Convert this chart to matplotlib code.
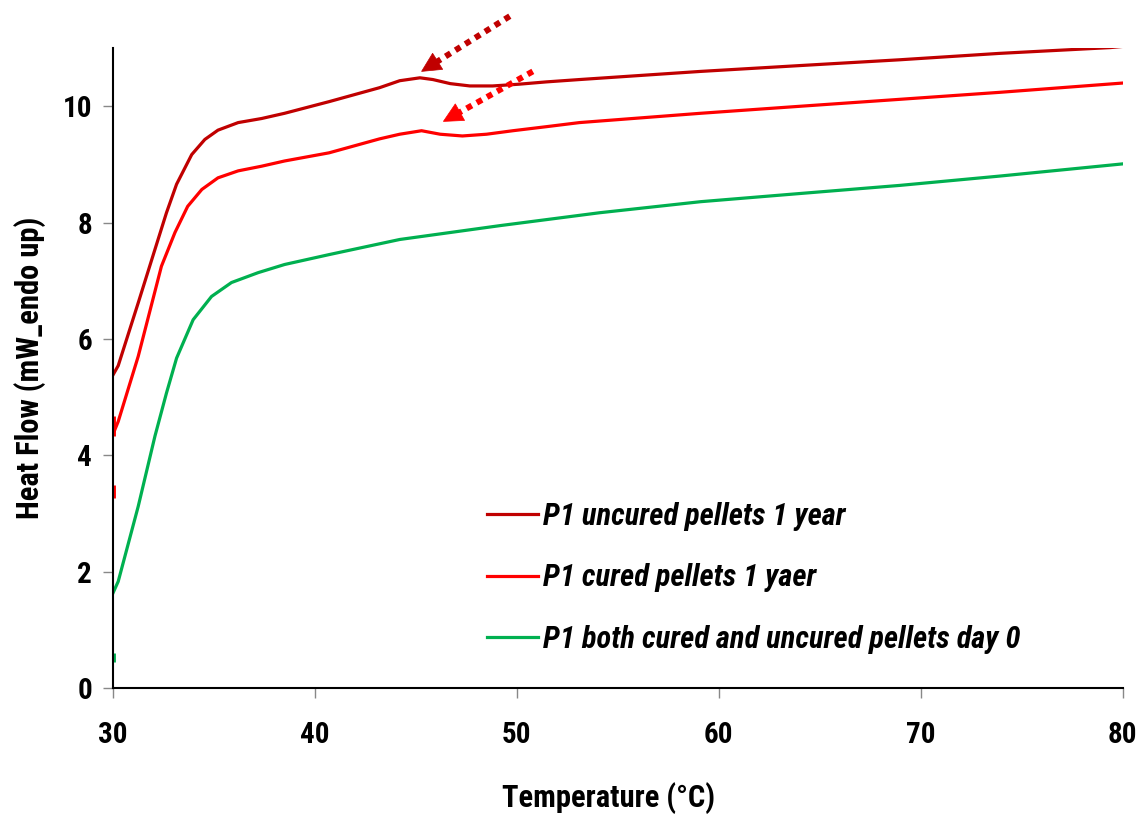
import numpy as np
import matplotlib
matplotlib.use("Agg")
import matplotlib.pyplot as plt
from matplotlib import font_manager as fm
from matplotlib.patches import Polygon
from matplotlib.transforms import IdentityTransform

names = {f.name for f in fm.fontManager.ttflist}
FONT = "DejaVu Sans"
for cand in ["Arial Narrow", "Liberation Sans Narrow", "Roboto Condensed",
             "Archivo Narrow", "Barlow Semi Condensed", "PT Sans Narrow"]:
    if cand in names:
        FONT = cand
        break
plt.rcParams['font.family'] = [FONT, 'DejaVu Sans']

# ---- data ----
t_uncured = [30.0, 30.26, 31.25, 32.08, 32.65, 33.15, 33.9, 34.55, 35.2, 36.2, 37.36, 38.5,
             40.7, 43.2, 44.2, 45.2, 45.84, 46.7, 47.67, 48.8, 50.1, 51.47, 53.1,
             59.1, 64.0, 68.96, 73.9, 79.4, 80.0]
v_uncured = [5.38, 5.54, 6.62, 7.54, 8.17, 8.66, 9.17, 9.43, 9.59, 9.72, 9.79, 9.88,
             10.08, 10.32, 10.44, 10.49, 10.46, 10.39, 10.35, 10.35, 10.38, 10.42, 10.46,
             10.60, 10.70, 10.80, 10.91, 11.01, 11.03]

t_cured = [30.0, 30.26, 31.25, 32.4, 33.07, 33.7, 34.4, 35.2, 36.2, 37.36, 38.5,
           40.7, 43.2, 44.2, 45.28, 46.2, 47.3, 48.5, 49.8, 51.47, 53.1,
           59.1, 64.0, 68.96, 73.9, 80.0]
v_cured = [4.36, 4.58, 5.70, 7.25, 7.83, 8.28, 8.57, 8.77, 8.89, 8.97, 9.06,
           9.20, 9.44, 9.52, 9.58, 9.52, 9.49, 9.52, 9.58, 9.65, 9.72,
           9.88, 10.00, 10.12, 10.24, 10.40]

t_day0 = [30.0, 30.26, 31.25, 32.08, 32.65, 33.15, 33.97, 34.88, 35.87, 37.19, 38.5,
          40.7, 44.2, 49.2, 54.1, 59.1, 64.0, 68.96, 73.9, 80.0]
v_day0 = [1.63, 1.83, 3.12, 4.33, 5.07, 5.67, 6.33, 6.73, 6.97, 7.14, 7.28,
          7.45, 7.71, 7.95, 8.17, 8.36, 8.50, 8.64, 8.80, 9.01]

# initial transients at 30 °C
t_spike = [30.0, 30.0]
v_cured_spike = [3.27, 3.49]
v_cured_spike2 = [4.33, 4.67]
v_day0_spike = [0.45, 0.60]

labels = ["P1 uncured pellets 1 year", "P1 cured pellets 1 yaer",
          "P1 both cured and uncured pellets day 0"]
colors = ["#C00000", "#FF0000", "#00B050"]

xticks = [30, 40, 50, 60, 70, 80]
yticks = [0, 2, 4, 6, 8, 10]

# arrow annotations (tail -> tip) in data coords
arrow_dark = [(49.65, 11.55), (45.28, 10.60)]
arrow_red = [(50.79, 10.60), (46.36, 9.74)]

fig = plt.figure(figsize=(11.41, 8.16), dpi=100)
ax = fig.add_axes([0.099, 0.157, 0.885, 0.784])

lw = 2.3
ax.plot(t_uncured, v_uncured, color=colors[0], lw=lw, label=labels[0])
ax.plot(t_cured, v_cured, color=colors[1], lw=lw, label=labels[1])
ax.plot(t_day0, v_day0, color=colors[2], lw=lw, label=labels[2])
for vs, c in [(v_cured_spike, colors[1]), (v_cured_spike2, colors[1]), (v_day0_spike, colors[2])]:
    ax.plot(t_spike, vs, color=c, lw=3.5, solid_capstyle='butt')

ax.set_xlim(30, 80)
ax.set_ylim(0, 11)


def draw_arrow(tail, tip, color, head_len=19, head_w=19):
    p_tail = ax.transData.transform(tail)
    p_tip = ax.transData.transform(tip)
    d = p_tip - p_tail
    L = np.hypot(*d)
    u = d / L
    n = np.array([-u[1], u[0]])
    base = p_tip - u * head_len
    tri = np.array([p_tip, base + n * head_w / 2, base - n * head_w / 2])
    ax.add_patch(Polygon(tri, closed=True, facecolor=color, edgecolor=color, lw=0.5,
                         transform=IdentityTransform(), clip_on=False))
    shaft_end = ax.transData.inverted().transform(base + u * 1)
    ax.plot([tail[0], shaft_end[0]], [tail[1], shaft_end[1]], color=color, lw=4.3,
            linestyle=(0, (1, 0.95)), dash_capstyle='butt', clip_on=False)


draw_arrow(*arrow_dark, colors[0])
draw_arrow(*arrow_red, colors[1])

ax.set_xticks(xticks)
ax.set_yticks(yticks)
ax.spines['top'].set_visible(False)
ax.spines['right'].set_visible(False)
for s in ['left', 'bottom']:
    ax.spines[s].set_linewidth(1.5)
    ax.spines[s].set_color('black')

tick_font = dict(family=[FONT, 'DejaVu Sans'], weight='bold', size=21)
ax.tick_params(axis='x', direction='out', length=7, width=1, color='#888888', pad=17)
ax.tick_params(axis='y', direction='out', length=7, width=1, color='#888888', pad=8)
ax.set_xticklabels([str(v) for v in xticks], fontdict=tick_font)
ax.set_yticklabels([str(v) for v in yticks], fontdict=tick_font)

ax.set_xlabel("Temperature (°C)", fontsize=22, fontweight='bold')
ax.xaxis.set_label_coords(0.491, -0.147)
ax.set_ylabel("Heat Flow (mW_endo up)", fontsize=22, fontweight='bold', labelpad=12)

leg = ax.legend(loc='center left', bbox_to_anchor=(0.370, 0.172), frameon=False,
                prop=dict(family=[FONT, 'DejaVu Sans'], weight='bold', style='italic', size=22),
                handlelength=1.67, handletextpad=0.17, labelspacing=1.06,
                borderaxespad=0, borderpad=0)

fig.savefig("out.png", dpi=100)
